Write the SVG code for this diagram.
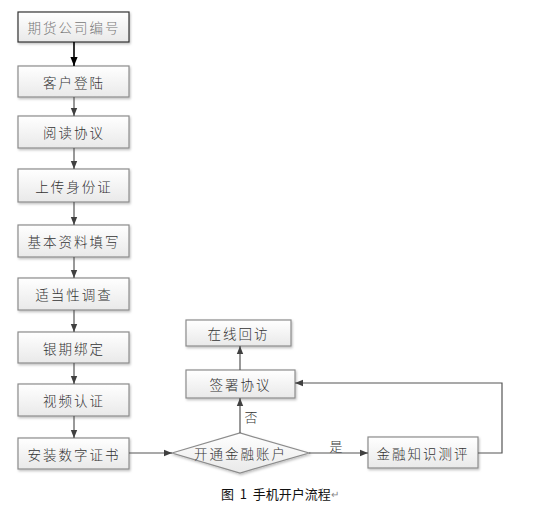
<svg xmlns="http://www.w3.org/2000/svg" width="538" height="516" viewBox="0 0 538 516">
<defs>
<linearGradient id="g" x1="0" y1="0" x2="0" y2="1">
<stop offset="0" stop-color="#ffffff"/>
<stop offset="1" stop-color="#e9e9e9"/>
</linearGradient>
<filter id="sh" x="-10%" y="-20%" width="120%" height="150%">
<feDropShadow dx="1" dy="1.5" stdDeviation="0.8" flood-color="#000" flood-opacity="0.25"/>
</filter>
<marker id="ah" viewBox="0 0 10 10" refX="10" refY="5" markerWidth="8" markerHeight="8" markerUnits="userSpaceOnUse" orient="auto">
<path d="M0,1 L10,5 L0,9 Z" fill="#404040"/>
</marker>
<marker id="ahb" viewBox="0 0 10 10" refX="10" refY="5" markerWidth="9" markerHeight="9" markerUnits="userSpaceOnUse" orient="auto">
<path d="M0,1 L10,5 L0,9 Z" fill="#000"/>
</marker>
</defs>
<style>
.box{fill:url(#g);stroke:#8c8c8c;stroke-width:1.2;filter:url(#sh)}
.t{font-family:"Noto Sans CJK SC",sans-serif;font-size:13.5px;font-weight:300;fill:#333;text-anchor:middle;dominant-baseline:central;letter-spacing:2px}
.c{stroke:#555;stroke-width:1.2;fill:none;marker-end:url(#ah)}
.lbl{font-family:"Noto Sans CJK SC",sans-serif;font-size:13px;font-weight:300;fill:#333;text-anchor:middle;dominant-baseline:central}
</style>
<rect width="538" height="516" fill="#fff"/>
<g id="n1"><rect class="box" x="18" y="12" width="111" height="30" style="stroke:#333"/><text class="t" x="74" y="27" style="fill:#777">期货公司编号</text></g>
<g id="n2"><rect class="box" x="18" y="66" width="111" height="31"/><text class="t" x="74" y="81.5">客户登陆</text></g>
<g id="n3"><rect class="box" x="18" y="116" width="111" height="32"/><text class="t" x="74" y="132">阅读协议</text></g>
<g id="n4"><rect class="box" x="18" y="169" width="111" height="33"/><text class="t" x="74" y="185.5">上传身份证</text></g>
<g id="n5"><rect class="box" x="18" y="225" width="111" height="32"/><text class="t" x="74" y="241">基本资料填写</text></g>
<g id="n6"><rect class="box" x="18" y="278" width="111" height="32"/><text class="t" x="74" y="294">适当性调查</text></g>
<g id="n7"><rect class="box" x="18" y="332" width="111" height="31"/><text class="t" x="74" y="347.5">银期绑定</text></g>
<g id="n8"><rect class="box" x="18" y="384" width="111" height="32"/><text class="t" x="74" y="400">视频认证</text></g>
<g id="n9"><rect class="box" x="18" y="438" width="111" height="31"/><text class="t" x="74" y="453.5">安装数字证书</text></g>
<g id="n10"><rect class="box" x="186" y="320" width="105" height="26"/><text class="t" x="238.5" y="333">在线回访</text></g>
<g id="n11"><rect class="box" x="186" y="370" width="109" height="28"/><text class="t" x="240.5" y="384">签署协议</text></g>
<g id="n12"><polygon class="box" points="172,453 240,433 309,453 240,473"/><text class="t" x="240.5" y="453">开通金融账户</text></g>
<g id="n13"><rect class="box" x="368" y="437" width="110" height="31"/><text class="t" x="423" y="452.5">金融知识测评</text></g>
<g id="connectors">
<line x1="74" y1="42" x2="74" y2="66" stroke="#000" stroke-width="1.6" marker-end="url(#ahb)"/>
<line class="c" x1="74" y1="97" x2="74" y2="116"/>
<line class="c" x1="74" y1="148" x2="74" y2="169"/>
<line class="c" x1="74" y1="202" x2="74" y2="225"/>
<line class="c" x1="74" y1="257" x2="74" y2="278"/>
<line class="c" x1="74" y1="310" x2="74" y2="332"/>
<line class="c" x1="74" y1="363" x2="74" y2="384"/>
<line class="c" x1="74" y1="416" x2="74" y2="438"/>
<line class="c" x1="129" y1="453" x2="172" y2="453"/>
<line class="c" x1="240" y1="433" x2="240" y2="398"/>
<line class="c" x1="240" y1="370" x2="240" y2="346"/>
<line class="c" x1="309" y1="453" x2="368" y2="453"/>
<polyline class="c" points="478,453 502,453 502,383 295,383"/>
<text class="lbl" x="251" y="416">否</text>
<text class="lbl" x="336" y="445">是</text>
</g>
<text x="221" y="493" font-family="'Noto Sans CJK SC',sans-serif" font-size="13" fill="#111" dominant-baseline="central">图&#160;&#160;1&#160;&#160;手机开户流程<tspan fill="#888" font-size="10">↵</tspan></text>
</svg>
